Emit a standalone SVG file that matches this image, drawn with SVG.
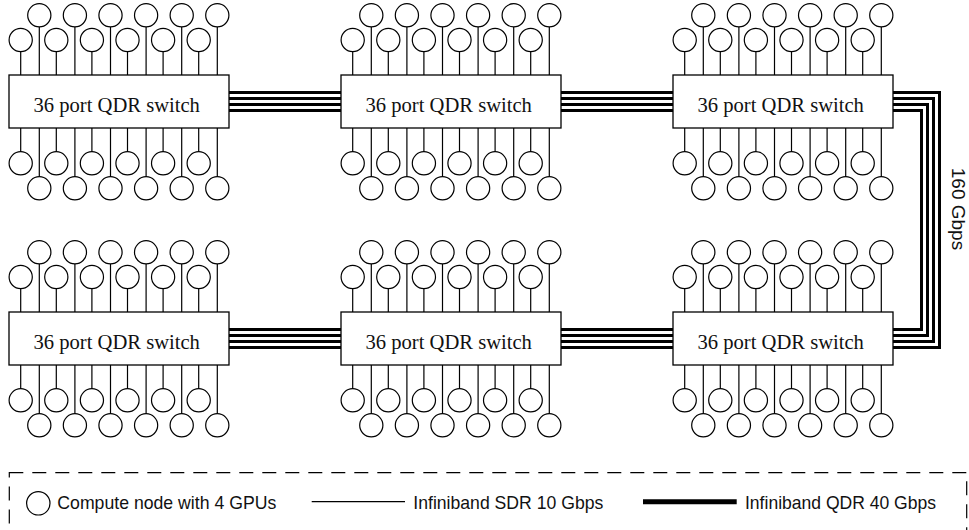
<svg xmlns="http://www.w3.org/2000/svg" xmlns:xlink="http://www.w3.org/1999/xlink" width="969" height="530" viewBox="0 0 969 530">
  <style>
    .node { fill: #fff; stroke: #000; stroke-width: 1.2; }
    .wire { stroke: #000; stroke-width: 1.2; fill: none; }
    .box { fill: #fff; stroke: #000; stroke-width: 1.3; }
    .label { font-family: "Liberation Serif", "Times New Roman", serif; font-size: 20.6px; fill: #111; text-anchor: middle; }
    .qdr { stroke: #000; stroke-width: 3; fill: none; stroke-linejoin: miter; }
    .legend-text { font-family: "Liberation Sans", Arial, Helvetica, sans-serif; font-size: 19px; fill: #111; }
  </style>
  <defs>
    <!-- one column of compute nodes: two above the switch, two below -->
    <g id="col">
      <line class="wire" x1="18.6" y1="-48.1" x2="18.6" y2="0"/>
      <line class="wire" x1="0" y1="-23.4" x2="0" y2="0"/>
      <line class="wire" x1="0" y1="53" x2="0" y2="76.7"/>
      <line class="wire" x1="18.6" y1="53" x2="18.6" y2="101.7"/>
      <circle class="node" cx="18.6" cy="-59.7" r="11.6"/>
      <circle class="node" cx="0" cy="-35" r="11.6"/>
      <circle class="node" cx="0" cy="88.3" r="11.6"/>
      <circle class="node" cx="18.6" cy="113.3" r="11.6"/>
    </g>
    <!-- 24 compute nodes attached to a 220x53 switch box -->
    <g id="ports">
      <use xlink:href="#col" href="#col" x="11.7"/>
      <use xlink:href="#col" href="#col" x="47.3"/>
      <use xlink:href="#col" href="#col" x="82.9"/>
      <use xlink:href="#col" href="#col" x="118.5"/>
      <use xlink:href="#col" href="#col" x="154.1"/>
      <use xlink:href="#col" href="#col" x="189.7"/>
    </g>
  </defs>

  <rect width="969" height="530" fill="#fff"/>

  <!-- 4 x QDR trunks between switches -->
  <g id="connectors">
    <path class="qdr" d="M229 92.5H341M229 98.5H341M229 104.5H341M229 110.5H341"/>
    <path class="qdr" d="M561 92.5H673M561 98.5H673M561 104.5H673M561 110.5H673"/>
    <path class="qdr" d="M229 329.5H341M229 335.5H341M229 341.5H341M229 347.5H341"/>
    <path class="qdr" d="M561 329.5H673M561 335.5H673M561 341.5H673M561 347.5H673"/>
    <path class="qdr" d="M893 92.5H939.5V347.5H893M893 98.5H933.5V341.5H893M893 104.5H927.5V335.5H893M893 110.5H921.5V329.5H893"/>
    <text class="legend-text" transform="translate(951.7,209) rotate(90)" text-anchor="middle">160 Gbps</text>
  </g>

  <g id="switch-1" transform="translate(9,75)">
    <use xlink:href="#ports" href="#ports"/>
    <rect class="box" width="220" height="53"/>
    <text class="label" x="107.7" y="37.3">36 port QDR switch</text>
  </g>
  <g id="switch-2" transform="translate(341,75)">
    <use xlink:href="#ports" href="#ports"/>
    <rect class="box" width="220" height="53"/>
    <text class="label" x="107.7" y="37.3">36 port QDR switch</text>
  </g>
  <g id="switch-3" transform="translate(673,75)">
    <use xlink:href="#ports" href="#ports"/>
    <rect class="box" width="220" height="53"/>
    <text class="label" x="107.7" y="37.3">36 port QDR switch</text>
  </g>
  <g id="switch-4" transform="translate(9,312)">
    <use xlink:href="#ports" href="#ports"/>
    <rect class="box" width="220" height="53"/>
    <text class="label" x="107.7" y="37.3">36 port QDR switch</text>
  </g>
  <g id="switch-5" transform="translate(341,312)">
    <use xlink:href="#ports" href="#ports"/>
    <rect class="box" width="220" height="53"/>
    <text class="label" x="107.7" y="37.3">36 port QDR switch</text>
  </g>
  <g id="switch-6" transform="translate(673,312)">
    <use xlink:href="#ports" href="#ports"/>
    <rect class="box" width="220" height="53"/>
    <text class="label" x="107.7" y="37.3">36 port QDR switch</text>
  </g>

  <g id="legend">
    <rect x="9.3" y="472.7" width="957.4" height="80" fill="none" stroke="#000" stroke-width="1.2" stroke-dasharray="14 9"/>
    <circle class="node" cx="38.3" cy="503.3" r="11.7"/>
    <text class="legend-text" x="57.3" y="509.3" textLength="219" lengthAdjust="spacingAndGlyphs">Compute node with 4 GPUs</text>
    <line class="wire" x1="311.7" y1="501.7" x2="405" y2="501.7"/>
    <text class="legend-text" x="413.3" y="509.3" textLength="190" lengthAdjust="spacingAndGlyphs">Infiniband SDR 10 Gbps</text>
    <line x1="643" y1="501.7" x2="736.7" y2="501.7" stroke="#000" stroke-width="5"/>
    <text class="legend-text" x="745" y="509.3" textLength="191" lengthAdjust="spacingAndGlyphs">Infiniband QDR 40 Gbps</text>
  </g>
</svg>
